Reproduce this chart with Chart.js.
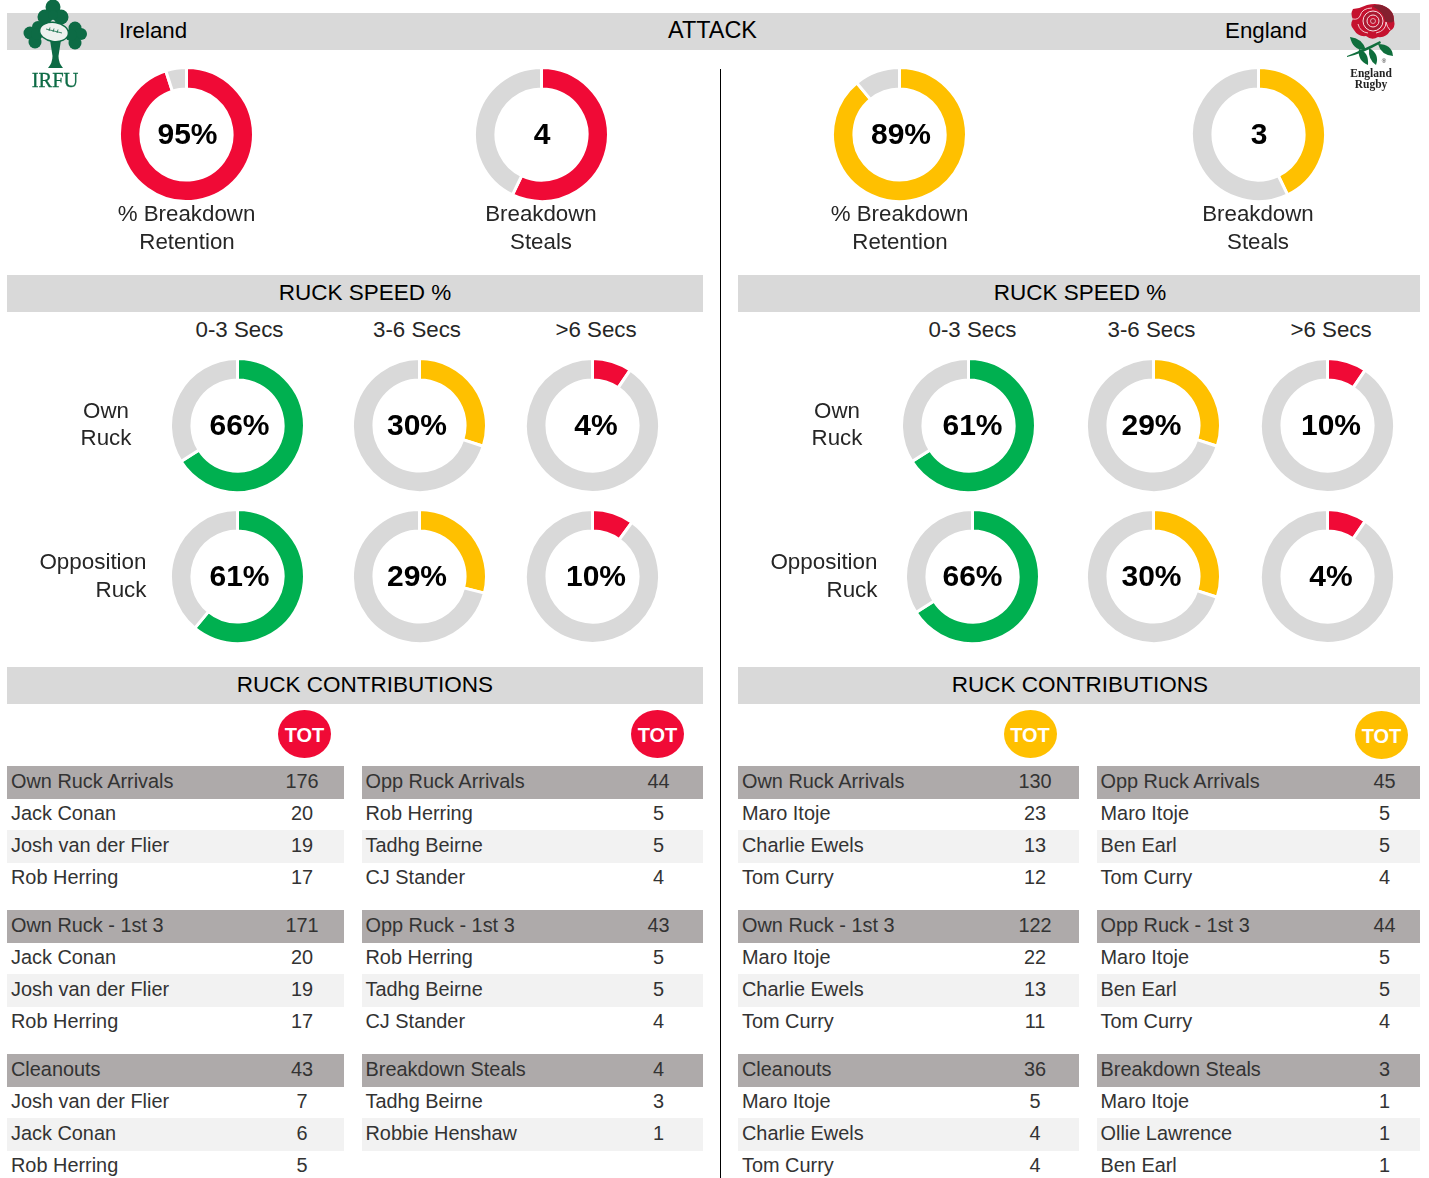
<!DOCTYPE html>
<html><head><meta charset="utf-8">
<script src="https://cdn.jsdelivr.net/npm/chart.js@4/dist/chart.umd.js"></script>
<style>
html,body{margin:0;padding:0;background:#fff}
#page{position:relative;width:1429px;height:1178px;overflow:hidden;font-family:"Liberation Sans",Arial,sans-serif;color:#262626}
.t{position:absolute;white-space:nowrap;line-height:1;transform:translate(-50%,-50%)}
.l{transform:translate(0,-50%)}
.r{transform:translate(-100%,-50%)}
.b{position:absolute}
canvas{position:absolute;display:block}
</style></head><body><div id="page"></div>
<script>
// ---- values ----
const teams = ["Ireland", "England"];
const retentionValues = [95, 89];
const stealsValues = [4, 3];
const stealsOther = [3, 4];
const speedColumns = ["0-3 Secs", "3-6 Secs", ">6 Secs"];
const speedRows = [["Own", "Ruck"], ["Opposition", "Ruck"]];
// printed labels
const irelandOwnLabels = [66, 30, 4];
const irelandOppLabels = [61, 29, 10];
const englandOwnLabels = [61, 29, 10];
const englandOppLabels = [66, 30, 4];
// drawn arc sizes as measured on the rings
const irelandOwnArcs = [66, 30, 9.5];
const irelandOppArcs = [61, 29, 10];
const englandOwnArcs = [66, 30, 9.5];
const englandOppArcs = [66, 30, 9.5];

const irelandOwnArrivals = [["Own Ruck Arrivals",176],["Jack Conan",20],["Josh van der Flier",19],["Rob Herring",17]];
const irelandOwnFirst3 = [["Own Ruck - 1st 3",171],["Jack Conan",20],["Josh van der Flier",19],["Rob Herring",17]];
const irelandCleanouts = [["Cleanouts",43],["Josh van der Flier",7],["Jack Conan",6],["Rob Herring",5]];
const irelandOppArrivals = [["Opp Ruck Arrivals",44],["Rob Herring",5],["Tadhg Beirne",5],["CJ Stander",4]];
const irelandOppFirst3 = [["Opp Ruck - 1st 3",43],["Rob Herring",5],["Tadhg Beirne",5],["CJ Stander",4]];
const irelandSteals = [["Breakdown Steals",4],["Tadhg Beirne",3],["Robbie Henshaw",1]];
const englandOwnArrivals = [["Own Ruck Arrivals",130],["Maro Itoje",23],["Charlie Ewels",13],["Tom Curry",12]];
const englandOwnFirst3 = [["Own Ruck - 1st 3",122],["Maro Itoje",22],["Charlie Ewels",13],["Tom Curry",11]];
const englandCleanouts = [["Cleanouts",36],["Maro Itoje",5],["Charlie Ewels",4],["Tom Curry",4]];
const englandOppArrivals = [["Opp Ruck Arrivals",45],["Maro Itoje",5],["Ben Earl",5],["Tom Curry",4]];
const englandOppFirst3 = [["Opp Ruck - 1st 3",44],["Maro Itoje",5],["Ben Earl",5],["Tom Curry",4]];
const englandSteals = [["Breakdown Steals",3],["Maro Itoje",1],["Ollie Lawrence",1],["Ben Earl",1]];

// ---- styling ----
const RED="#f00a36", YELLOW="#ffc000", GREEN="#00b050", GREY="#d9d9d9", HEAD="#aeaaaa", ALT="#f2f2f2";
const page=document.getElementById("page");
function box(x,y,w,h,c,extra){const d=document.createElement("div");d.className="b";
  d.style.cssText=`left:${x}px;top:${y}px;width:${w}px;height:${h}px;background:${c};${extra||""}`;page.appendChild(d);return d;}
function text(x,y,s,size,opt){opt=opt||{};const d=document.createElement("div");
  d.className="t"+(opt.a?" "+opt.a:"");d.textContent=s;
  d.style.cssText=`left:${x}px;top:${y}px;font-size:${size}px;color:${opt.c||"#262626"};`+(opt.b?"font-weight:bold;":"")+(opt.f?`font-family:${opt.f};`:"")+(opt.ls?`letter-spacing:${opt.ls}px;`:"")+(opt.st?`-webkit-text-stroke:${opt.st}px ${opt.c};`:"");
  page.appendChild(d);}
function ring(cx,cy,val,rest,color){
  const S=137,c=document.createElement("canvas");c.width=S;c.height=S;
  c.style.cssText=`left:${Math.round(cx-S/2)}px;top:${Math.round(cy-S/2)}px;width:${S}px;height:${S}px`;page.appendChild(c);
  new Chart(c,{type:"doughnut",data:{labels:["value","rest"],datasets:[{data:[val,rest],backgroundColor:[color,GREY],borderColor:"#fff",borderWidth:3,hoverOffset:0}]},
    options:{responsive:false,animation:false,cutout:"68%",rotation:0,layout:{padding:0},
      plugins:{legend:{display:false},tooltip:{enabled:false}}}});
}
// banners
box(7,13,1413,37,GREY);
box(7,275,696,37,GREY);box(738,275,682,37,GREY);
box(7,667,696,37,GREY);box(738,667,682,37,GREY);
box(720,69,1,1109,"#000");
text(119,30.5,teams[0],22.3,{a:"l",c:"#000"});
text(712.5,30.5,"ATTACK",23.4,{c:"#000"});
text(1266,30.5,teams[1],22.3,{c:"#000"});
text(365,292.6,"RUCK SPEED %",22.5,{c:"#000"});
text(1080,292.6,"RUCK SPEED %",22.5,{c:"#000"});
text(365,684.6,"RUCK CONTRIBUTIONS",22.5,{c:"#000"});
text(1080,684.6,"RUCK CONTRIBUTIONS",22.5,{c:"#000"});

// top rings
const topX=[[186.5,541],[899.5,1258]], topColor=[RED,YELLOW];
teams.forEach((t,i)=>{
  ring(topX[i][0],134.5,retentionValues[i],100-retentionValues[i],topColor[i]);
  ring(topX[i][1],134.5,stealsValues[i],stealsOther[i],topColor[i]);
  text(topX[i][0]+(i?1.5:1),134,retentionValues[i]+"%",30,{b:1,c:"#000"});
  text(topX[i][1]+1,134,String(stealsValues[i]),30,{b:1,c:"#000"});
  text(topX[i][0]+(i?0:0),213.5,"% Breakdown",22.3);text(topX[i][0]+0.5,241.5,"Retention",22.3);
  text(topX[i][1],213.5,"Breakdown",22.3);text(topX[i][1],241.5,"Steals",22.3);
});

// ruck speed
const speedColors=[GREEN,YELLOW,RED];
const ringX=[[[237.5,419,592],[237.5,419,592]],[[968.5,1153.5,1327],[972,1153.5,1327]]];
const labelX=[[239.5,417,596],[972.5,1151.5,1331]];
const rowY=[425,576];
const arcs=[[irelandOwnArcs,irelandOppArcs],[englandOwnArcs,englandOppArcs]];
const labels=[[irelandOwnLabels,irelandOppLabels],[englandOwnLabels,englandOppLabels]];
teams.forEach((t,i)=>{
  speedColumns.forEach((c,k)=>text(labelX[i][k],329.5,c,22.3));
  rowY.forEach((y,r)=>{
    speedColumns.forEach((c,k)=>{
      const v=arcs[i][r][k];
      ring(ringX[i][r][k],y,v,100-v,speedColors[k]);
      text(labelX[i][k],y,labels[i][r][k]+"%",30,{b:1,c:"#000"});
    });
  });
});
text(106,410.5,speedRows[0][0],22.3);text(106,437.5,speedRows[0][1],22.3);
text(837,410.5,speedRows[0][0],22.3);text(837,437.5,speedRows[0][1],22.3);
text(146.5,561.5,speedRows[1][0],22.4,{a:"r"});text(146.5,589.5,speedRows[1][1],22.4,{a:"r"});
text(877.5,561.5,speedRows[1][0],22.4,{a:"r"});text(877.5,589.5,speedRows[1][1],22.4,{a:"r"});

// TOT badges
[[304.5,734,RED],[657.5,734,RED],[1030,734,YELLOW],[1381.5,735,YELLOW]].forEach(b=>{
  box(b[0]-26.5,b[1]-24,53,48,b[2],"border-radius:50%");
  text(b[0],b[1]+1,"TOT",20,{b:1,c:"#fff"});
});

// tables
const tableCols=[
 {x:7,w:337,tx:11,nx:302,blocks:[irelandOwnArrivals,irelandOwnFirst3,irelandCleanouts]},
 {x:362,w:341,tx:365.5,nx:658.5,blocks:[irelandOppArrivals,irelandOppFirst3,irelandSteals]},
 {x:738,w:341,tx:742,nx:1035,blocks:[englandOwnArrivals,englandOwnFirst3,englandCleanouts]},
 {x:1097,w:323,tx:1100.5,nx:1384.5,blocks:[englandOppArrivals,englandOppFirst3,englandSteals]}];
const blockY=[766,910,1054];
tableCols.forEach(col=>{
  col.blocks.forEach((rows,bi)=>{
    const y0=blockY[bi];
    box(col.x,y0,col.w,33,HEAD);
    if(rows.length>2) box(col.x,y0+64,col.w,33,ALT);
    rows.forEach((row,ri)=>{
      const y=y0+15.6+ri*32;
      text(col.tx,y,row[0],19.9,{a:"l",c:"#333"});
      text(col.nx,y,String(row[1]),19.9,{c:"#333"});
    });
  });
});

// logos
const svgNS=`<svg xmlns="http://www.w3.org/2000/svg" width="1429" height="110" style="position:absolute;left:0;top:0;pointer-events:none">
<g fill="#0d6b45">
 <circle cx="53" cy="7" r="7.5"/><circle cx="45" cy="17" r="7.5"/><circle cx="61" cy="17" r="7.5"/><circle cx="53" cy="15" r="5"/>
 <circle cx="30" cy="33" r="6.5"/><circle cx="38" cy="27" r="6"/><circle cx="35" cy="42" r="6.5"/><circle cx="37" cy="34" r="6"/>
 <circle cx="75" cy="28" r="6.5"/><circle cx="81" cy="34" r="6"/><circle cx="75" cy="43" r="6.5"/><circle cx="71" cy="35" r="6"/>
 <path d="M50 40 L61 40 L58.5 56 Q58.5 63 63 68 L48 68 Q52.5 63 52.5 56 Z"/>
</g>
<ellipse cx="54" cy="32" rx="14.5" ry="9.5" fill="#eef2ef" stroke="#0d6b45" stroke-width="1.5" transform="rotate(8 54 32)"/>
<path d="M46 29 L62 33 M50 27.5 L49 31 M54 28.5 L53 32 M58 29.5 L57 33" stroke="#0d6b45" stroke-width="0.8" fill="none"/>
<g>
 <path d="M1353 9 Q1361 8 1367 5 Q1378 2 1386 7 Q1394 11 1394 20 Q1396 28 1390 31 Q1386 38 1378 37 Q1372 41 1366 36 Q1358 37 1354 30 Q1349 25 1353 19 Q1350 14 1353 9Z" fill="#c5122f"/>
 <path d="M1372 6 Q1380 3 1386 7 Q1394 11 1394 21 Q1390 24 1385 21 Q1384 12 1372 6Z" fill="#84202f"/>
 <path d="M1360 16 Q1362 8 1372 8 M1386 22 Q1386 31 1376 33 M1358 24 Q1360 32 1368 33 M1353 19 Q1358 20 1360 16 M1390 30 Q1387 27 1386 22" stroke="#f6dde0" stroke-width="0.9" fill="none"/>
 <circle cx="1373" cy="21" r="10" fill="#a91a30" stroke="#f6dde0" stroke-width="1"/>
 <circle cx="1373" cy="21" r="6" fill="#c5122f" stroke="#f6dde0" stroke-width="1"/>
 <circle cx="1373" cy="21" r="2.5" fill="#a91a30" stroke="#f6dde0" stroke-width="0.7"/>
</g>
<g fill="#0f6e3c">
 <path d="M1350 37 Q1362 38 1366 50 Q1353 51 1350 37Z"/>
 <path d="M1378 44 Q1392 44 1393 56 Q1381 55 1378 44Z"/>
 <path d="M1359 49 Q1369 52 1368 65 Q1357 60 1359 49Z"/>
 <path d="M1369 48 Q1380 54 1376 65 Q1368 60 1369 48Z"/>
 <path d="M1347 56 Q1362 50 1380 41 L1381 43 Q1364 53 1347 57Z"/>
</g>
</svg>`;
page.insertAdjacentHTML("beforeend",svgNS);
text(55,80,"IRFU",20.5,{f:'"Liberation Serif",serif',c:"#0d6b45",st:0.3});
text(1384,60.5,"®",6,{c:"#222"});
text(1371,74,"England",11.5,{b:1,f:'"Liberation Serif",serif',c:"#222"});
text(1371,85,"Rugby",11.5,{b:1,f:'"Liberation Serif",serif',c:"#222"});
</script></body></html>
